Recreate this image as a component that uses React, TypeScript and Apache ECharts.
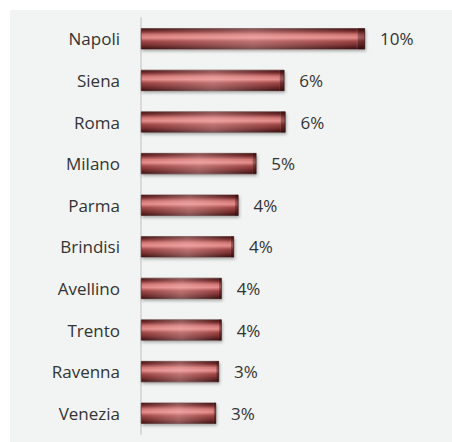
import React, { useEffect, useRef } from "react";
import * as echarts from "echarts";

const categories = ["Napoli", "Siena", "Roma", "Milano", "Parma", "Brindisi", "Avellino", "Trento", "Ravenna", "Venezia"];
const values = [10.0, 6.4, 6.45, 5.15, 4.35, 4.15, 3.6, 3.6, 3.48, 3.35];

export default function App() {
  const ref = useRef<HTMLDivElement>(null);
  useEffect(() => {
    const chart = echarts.init(ref.current!, null, { renderer: "svg" });
    const barGradient = new echarts.graphic.LinearGradient(0, 0, 0, 1, [
      { offset: 0, color: "#4a1818" },
      { offset: 0.12, color: "#6e2626" },
      { offset: 0.3, color: "#d07472" },
      { offset: 0.45, color: "#e48e8c" },
      { offset: 0.62, color: "#a04646" },
      { offset: 0.85, color: "#6a2626" },
      { offset: 1, color: "#3a1212" },
    ]);
    const highlight = new echarts.graphic.LinearGradient(0, 0, 1, 0, [
      { offset: 0, color: "rgba(255,200,200,0)" },
      { offset: 0.5, color: "rgba(255,200,200,0.35)" },
      { offset: 0.96, color: "rgba(255,200,200,0)" },
      { offset: 0.97, color: "rgba(40,10,10,0.35)" },
      { offset: 1, color: "rgba(40,10,10,0.45)" },
    ]);
    chart.setOption({
      animation: false,
      backgroundColor: "#ffffff",
      graphic: [
        { type: "rect", left: 10, top: 10, shape: { width: 442, height: 432 }, style: { fill: "#f2f3f3" }, z: -10 },
      ],
      grid: { left: 141, top: 18, height: 416, width: 268.8, containLabel: false },
      xAxis: {
        type: "value",
        min: 0,
        max: 12,
        show: false,
      },
      yAxis: {
        type: "category",
        data: categories,
        inverse: true,
        axisLine: { show: true, lineStyle: { color: "#d9d9d9", width: 2 } },
        axisTick: { show: false },
        axisLabel: {
          margin: 21,
          color: "#333333",
          fontSize: 17,
          fontFamily: "Open Sans",
        },
      },
      series: [
        {
          type: "bar",
          data: values,
          barWidth: 21,
          itemStyle: {
            color: barGradient,
            borderColor: "#3a1212",
            borderWidth: 0.5,
            shadowBlur: 3,
            shadowOffsetY: 2,
            shadowOffsetX: 1,
            shadowColor: "rgba(0,0,0,0.3)",
          },
          label: {
            show: true,
            position: "right",
            distance: 15,
            color: "#333333",
            fontSize: 17,
            fontFamily: "Open Sans",
            formatter: (p: any) => Math.round(p.value) + "%",
          },
        },
        {
          type: "bar",
          data: values,
          barWidth: 21,
          barGap: "-100%",
          silent: true,
          itemStyle: { color: highlight },
          label: { show: false },
        },
      ],
    });
    return () => chart.dispose();
  }, []);
  return <div ref={ref} style={{ width: 452, height: 442, position: "absolute", left: 0, top: 0 }} />;
}
